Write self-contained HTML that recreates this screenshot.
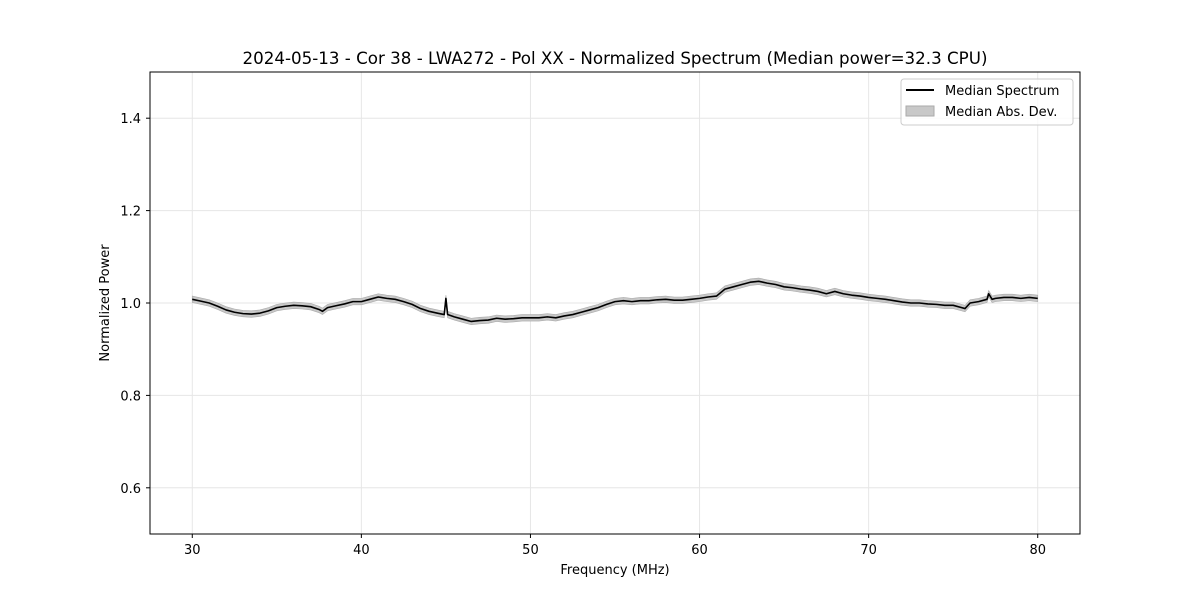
<!DOCTYPE html>
<html><head><meta charset="utf-8"><style>
body{margin:0;background:#fff;font-family:"Liberation Sans","DejaVu Sans",sans-serif}
svg text{font-family:"DejaVu Sans","Liberation Sans",sans-serif}
</style></head><body>
<svg id="chart" width="1200" height="600" viewBox="0 0 1200 600">
<rect width="1200" height="600" fill="#fff"/>
<g id="grid"></g>
<g id="band"></g>
<g id="line"></g>
<rect x="150" y="72" width="930" height="462" fill="none" stroke="#000" stroke-width="1"/>
<g id="ticks"></g>
<text x="615" y="64" text-anchor="middle" font-size="16.7">2024-05-13 - Cor 38 - LWA272 - Pol XX - Normalized Spectrum (Median power=32.3 CPU)</text>
<text x="615" y="574" text-anchor="middle" font-size="13">Frequency (MHz)</text>
<text transform="translate(109,303) rotate(-90)" text-anchor="middle" font-size="13">Normalized Power</text>
<g>
<rect x="901" y="79" width="172" height="46" rx="3" fill="#fff" fill-opacity="0.8" stroke="#ccc"/>
<line x1="906" y1="90" x2="934" y2="90" stroke="#000" stroke-width="2"/>
<text x="945" y="95" font-size="13">Median Spectrum</text>
<rect x="906" y="106" width="28" height="10" fill="#c8c8c8" stroke="#aaa"/>
<text x="945" y="116" font-size="13">Median Abs. Dev.</text>
</g>
</svg>
<script>
const freqs=[30,30.5,31,31.5,32,32.5,33,33.5,34,34.5,35,35.5,36,36.5,37,37.5,37.7,38,38.5,39,39.5,40,40.5,41,41.5,42,42.5,43,43.5,44,44.5,44.9,45,45.1,45.5,46,46.5,47,47.5,48,48.5,49,49.5,50,50.5,51,51.5,52,52.5,53,53.5,54,54.5,55,55.5,56,56.5,57,57.5,58,58.5,59,59.5,60,60.5,61,61.5,62,62.5,63,63.5,64,64.5,65,65.5,66,66.5,67,67.5,68,68.5,69,69.5,70,70.5,71,71.5,72,72.5,73,73.5,74,74.5,75,75.5,75.7,76,76.5,77,77.1,77.3,77.5,78,78.5,79,79.5,80];
const medians=[1.008,1.004,1.0,0.993,0.985,0.98,0.977,0.976,0.978,0.983,0.99,0.993,0.995,0.994,0.992,0.986,0.982,0.99,0.994,0.998,1.003,1.003,1.008,1.013,1.01,1.008,1.003,0.997,0.988,0.982,0.978,0.975,1.01,0.975,0.97,0.965,0.96,0.962,0.963,0.967,0.965,0.966,0.968,0.968,0.968,0.97,0.968,0.972,0.975,0.98,0.985,0.99,0.997,1.003,1.005,1.003,1.005,1.005,1.007,1.008,1.006,1.006,1.008,1.01,1.013,1.015,1.03,1.035,1.04,1.045,1.047,1.043,1.04,1.035,1.033,1.03,1.028,1.025,1.02,1.025,1.02,1.017,1.015,1.012,1.01,1.008,1.005,1.002,1.0,1.0,0.998,0.997,0.995,0.995,0.99,0.988,1.0,1.003,1.008,1.02,1.008,1.01,1.012,1.012,1.01,1.012,1.01];
const madDev=0.007;
const xTicks=[30,40,50,60,70,80];
const yTicks=[0.6,0.8,1.0,1.2,1.4];
const X=v=>150+(v-27.5)/55*930;
const Y=v=>534-(v-0.5)/1.0*462;
const NS="http://www.w3.org/2000/svg";
function mk(t,a,p){const e=document.createElementNS(NS,t);for(const k in a)e.setAttribute(k,a[k]);p.appendChild(e);return e;}
const grid=document.getElementById('grid'),ticks=document.getElementById('ticks');
xTicks.forEach(t=>{
 const g=mk('line',{x1:X(t),x2:X(t),y1:72,y2:534,stroke:'#e6e6e6','stroke-width':1},grid);
 
 
 const k=mk('line',{x1:X(t),x2:X(t),y1:534,y2:538,stroke:'#000'},ticks);
 
 
 const l=mk('text',{x:X(t),y:554,'text-anchor':'middle','font-size':13},ticks);l.textContent=t;
 
 
});
yTicks.forEach(t=>{
 const g=mk('line',{x1:150,x2:1080,y1:Y(t),y2:Y(t),stroke:'#e6e6e6','stroke-width':1},grid);
 
 
 const k=mk('line',{x1:146,x2:150,y1:Y(t),y2:Y(t),stroke:'#000'},ticks);
 
 
 const l=mk('text',{x:141,y:Y(t)+5,'text-anchor':'end','font-size':13},ticks);l.textContent=t.toFixed(1);
 
 
});
let up=freqs.map((f,i)=>X(f)+','+Y(medians[i]+madDev));
let dn=freqs.map((f,i)=>X(f)+','+Y(medians[i]-madDev)).reverse();
const band=mk('polygon',{points:up.concat(dn).join(' '),fill:'#c8c8c8',stroke:'#aaa','stroke-width':0.6},document.getElementById('band'));


const line=mk('polyline',{points:freqs.map((f,i)=>X(f)+','+Y(medians[i])).join(' '),fill:'none',stroke:'#000','stroke-width':1.6,'stroke-linejoin':'round'},document.getElementById('line'));


</script>
</body></html>
